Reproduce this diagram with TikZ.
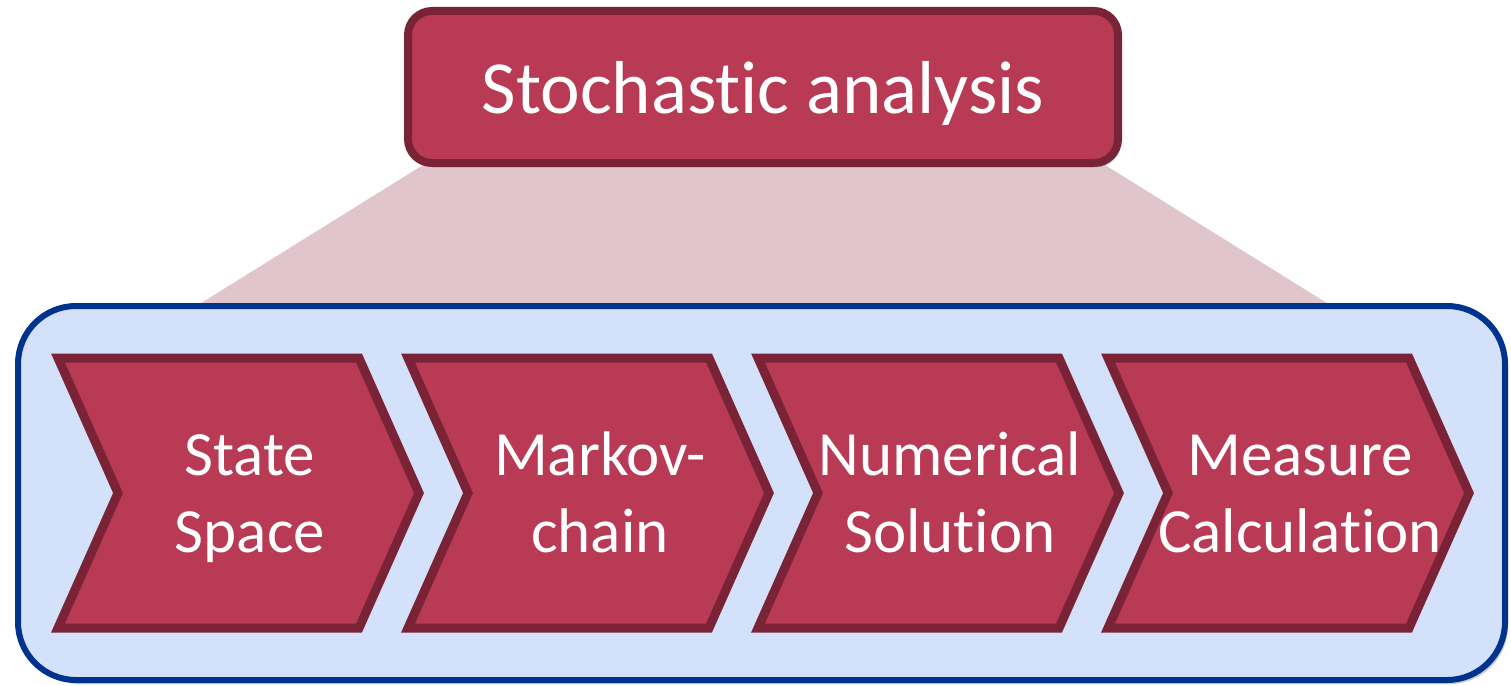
\documentclass[tikz,border=0pt]{standalone}
\usepackage{fontspec}
\setmainfont{Carlito}[RawFeature=-liga]
\usetikzlibrary{shadows}
\definecolor{redfill}{HTML}{B83A54}
\definecolor{redline}{HTML}{7A2337}
\definecolor{pinkfan}{HTML}{E0C6CC}
\definecolor{bluefill}{HTML}{D4E1FA}
\definecolor{blueline}{HTML}{00338D}
\begin{document}
\begin{tikzpicture}[x=1pt,y=-1pt,
  softshadow/.style={drop shadow={opacity=0.25,shadow xshift=3pt,shadow yshift=-4pt,fill=black!80}},
  titlebox/.style={fill=redfill,draw=redline,line width=8pt,rounded corners=24pt,softshadow,
    minimum width=710pt,minimum height=152pt,inner sep=0pt,outer sep=0pt},
  panel/.style={fill=bluefill,draw=blueline,line width=6pt,rounded corners=58pt,softshadow,
    minimum width=1487pt,minimum height=374pt,inner sep=0pt,outer sep=0pt},
  chevron/.style={fill=redfill,draw=redline,line width=9pt,miter limit=10,softshadow},
  fan/.style={fill=pinkfan},
  steptext/.style={text=white,font=\fontsize{63}{77}\selectfont,align=center,anchor=base,inner sep=0pt},
  titletext/.style={text=white,font=\fontsize{75}{90}\selectfont,text height=52pt,text depth=0pt}]
\useasboundingbox (0,0) rectangle (1511,685);
% fan behind
\fill[fan] (423,165) -- (1105,165) -- (1330,305) -- (198,305) -- cycle;
% title
\node[titlebox,titletext] (title) at (763,87) {Stochastic analysis};
% panel
\node[panel] (panel) at (761.5,493) {};
% chevrons
\foreach \i in {0,1,2,3}{
  \draw[chevron,shift={(350*\i,0)}] (58,358) -- (359,358) -- (419,493) -- (359,628) -- (58,628) -- (118,493) -- cycle;
}
\foreach \i/\txt in {0/{State\\Space},1/{Markov-\\chain},2/{Numerical\\Solution},3/{Measure\\Calculation}}{
  \node[steptext] (step\i) at ({250+350*\i},552) {\txt};
}
\end{tikzpicture}
\end{document}
